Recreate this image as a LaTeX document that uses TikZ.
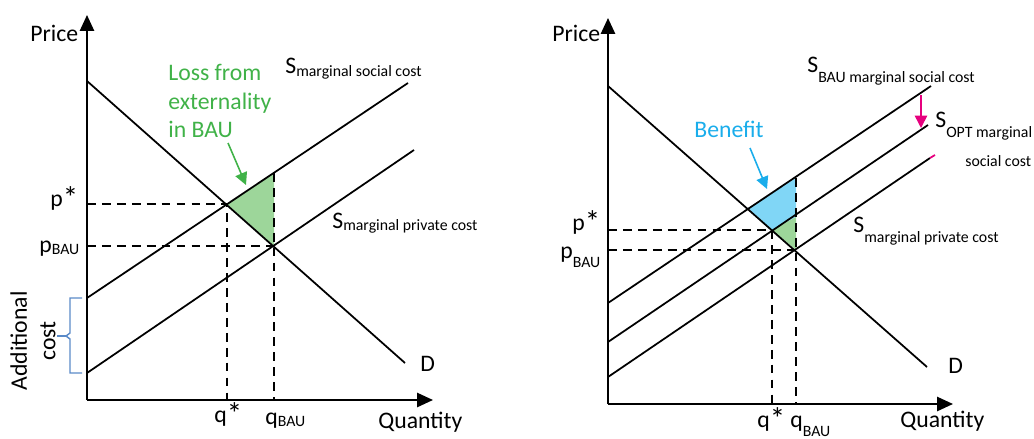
\documentclass[tikz,border=0pt]{standalone}
\usepackage{fontspec}
\setmainfont{Carlito}
\usetikzlibrary{arrows.meta}
\definecolor{lossgreen}{HTML}{40B248}
\definecolor{fillgreen}{HTML}{9DD69A}
\definecolor{fillblue}{HTML}{80D6F6}
\definecolor{benefitblue}{HTML}{1AADEB}
\definecolor{bracketblue}{HTML}{5A8AC8}
\definecolor{shiftpink}{HTML}{E6007E}
\newcommand{\bigtxt}{\fontsize{13.5}{16.2}\selectfont}
\newcommand{\smalltxt}{\fontsize{9}{10}\selectfont}
\newcommand{\starmark}{\raisebox{-1.5pt}{\scalebox{1.3}{*}}}
\begin{document}
\begin{tikzpicture}[x=0.02cm,y=-0.02cm,
  axis/.style={line width=1.2pt,-{Triangle[length=9pt,width=8pt]}},
  curve/.style={line width=1pt},
  guide/.style={line width=1pt,dash pattern=on 5pt off 3.5pt},
  lbl/.style={inner sep=0pt,font=\bigtxt},
  callout/.style={line width=0.9pt,-{Triangle[length=7pt,width=7pt]}}]
\useasboundingbox (0,0) rectangle (1034,439);

% ================= LEFT CHART =================
\coordinate (Lo) at (87,400);
\coordinate (Ltop) at (87,15);
\coordinate (Lright) at (433,400);
\coordinate (LDs) at (87,81);   \coordinate (LDe) at (405,363);
\coordinate (LSs) at (87,298);  \coordinate (LSe) at (408,83);
\coordinate (LPs) at (87,373);  \coordinate (LPe) at (414,150);
\coordinate (Lpstar) at (227,204);
\coordinate (Lpbau) at (274,246);
\coordinate (Ltopq) at (274,173);
\coordinate (LyA) at (87,204);  \coordinate (LyB) at (87,246);
\coordinate (LxA) at (227,400); \coordinate (LxB) at (274,400);

\fill[fillgreen] (Lpstar) -- (Ltopq) -- (Lpbau) -- cycle;
\draw[guide] (LyA) -- (Lpstar) -- (LxA);
\draw[guide] (LyB) -- (Lpbau);
\draw[guide] (Ltopq) -- (LxB);
\draw[curve] (LDs) -- (LDe);
\draw[curve] (LSs) -- (LSe);
\draw[curve] (LPs) -- (LPe);
\draw[axis] (Lo) -- (Ltop);
\draw[axis] (Lo) -- (Lright);

\node[lbl,anchor=base west] (Lprice) at (30,42) {Price};
\node[lbl,anchor=base west] (Lquant) at (378,428) {Quantity};
\node[lbl,anchor=base west] (LD) at (420,371) {D};
\node[lbl,anchor=base west] (Lmsc) at (285,74) {S\raisebox{-1.7pt}{\smalltxt marginal social cost}};
\node[lbl,anchor=base west] (Lmpc) at (332,228) {S\raisebox{-1.7pt}{\smalltxt marginal private cost}};
\node[lbl,anchor=base west] (Lps) at (50,206) {p\starmark};
\node[lbl,anchor=base west] (Lpb) at (39,252) {p\raisebox{-1.7pt}{\smalltxt BAU}};
\node[lbl,anchor=base west] (Lqs) at (214,422) {q\starmark};
\node[lbl,anchor=base west] (Lqb) at (265,424) {q\raisebox{-1.7pt}{\smalltxt BAU}};
\node[lbl,anchor=north west,align=left,text=lossgreen] (Lloss) at (168,64)
  {Loss from\\externality\\in BAU};
\coordinate (Larrs) at (228,143);
\coordinate (Larre) at (246,185);
\draw[callout,lossgreen] (Larrs) -- (Larre);

% bracket "Additional cost"
\coordinate (Bt) at (82,298);
\coordinate (Bb) at (82,373);
\coordinate (Bm) at (57,336);
\draw[bracketblue,line width=0.8pt] (Bt) -- (70,298) -- (70,333) -- (66,336) -- (70,339) -- (70,373) -- (Bb);
\draw[bracketblue,line width=0.8pt] (66,336) -- (Bm);
\node[lbl,rotate=90,align=center] (Ladd) at (33,341) {Additional\\cost};

% ================= RIGHT CHART =================
\coordinate (Ro) at (608,404);
\coordinate (Rtop) at (608,18);
\coordinate (Rright) at (953,404);
\coordinate (RDs) at (608,86);   \coordinate (RDe) at (927,367);
\coordinate (RBs) at (608,303);  \coordinate (RBe) at (931,86);
\coordinate (ROs) at (608,342);  \coordinate (ROe) at (928,125);
\coordinate (RPs) at (608,377);  \coordinate (RPe) at (930,158);
\coordinate (RPtip) at (935,155);
\coordinate (Rcross) at (748,208);
\coordinate (Rpstar) at (772,230);
\coordinate (Rpbau) at (796,250);
\coordinate (RtopB) at (796,178);
\coordinate (RtopO) at (796,217);
\coordinate (RyA) at (608,230);  \coordinate (RyB) at (608,250);
\coordinate (RxA) at (772,404);  \coordinate (RxB) at (796,404);

\fill[fillblue] (Rcross) -- (RtopB) -- (RtopO) -- (Rpstar) -- cycle;
\fill[fillgreen] (Rpstar) -- (RtopO) -- (Rpbau) -- cycle;
\draw[guide] (RyA) -- (Rpstar) -- (RxA);
\draw[guide] (RyB) -- (Rpbau);
\draw[guide] (RtopB) -- (RxB);
\draw[curve] (RDs) -- (RDe);
\draw[curve] (RBs) -- (RBe);
\draw[curve] (ROs) -- (ROe);
\draw[curve] (RPs) -- (RPe);
\draw[curve,shiftpink] (RPe) -- (RPtip);
\draw[axis] (Ro) -- (Rtop);
\draw[axis] (Ro) -- (Rright);

\node[lbl,anchor=base west] (Rprice) at (552,42) {Price};
\node[lbl,anchor=base west] (Rquant) at (900,427) {Quantity};
\node[lbl,anchor=base west] (RD) at (948,373) {D};
\node[lbl,anchor=base west] (Rbau) at (807,72) {S\raisebox{-6pt}{\smalltxt BAU marginal social cost}};
\node[lbl,anchor=base west] (Ropt) at (935,128) {S\raisebox{-5.5pt}{\smalltxt OPT marginal}};
\node[lbl,anchor=base west,font=\smalltxt] (Ropt2) at (965,166) {social cost};
\node[lbl,anchor=base west] (Rmpc) at (853,232) {S};
\node[lbl,anchor=base west,font=\smalltxt] (Rmpc2) at (864,242) {marginal private cost};
\node[lbl,anchor=base west] (Rps) at (572,230) {p\starmark};
\node[lbl,anchor=base west] (Rpb) at (560,258) {p\raisebox{-5.5pt}{\smalltxt BAU}};
\node[lbl,anchor=base west] (Rqs) at (757,427) {q\starmark};
\node[lbl,anchor=base west] (Rqb) at (790,427) {q\raisebox{-5.5pt}{\smalltxt BAU}};
\node[lbl,anchor=base west,text=benefitblue] (Rben) at (694,137) {Benefit};
\coordinate (Rarrs) at (750,148);
\coordinate (Rarre) at (767,189);
\draw[callout,benefitblue] (Rarrs) -- (Rarre);
\coordinate (Rshs) at (921,95);
\coordinate (Rshe) at (921,128);
\draw[callout,shiftpink] (Rshs) -- (Rshe);
\end{tikzpicture}
\end{document}
